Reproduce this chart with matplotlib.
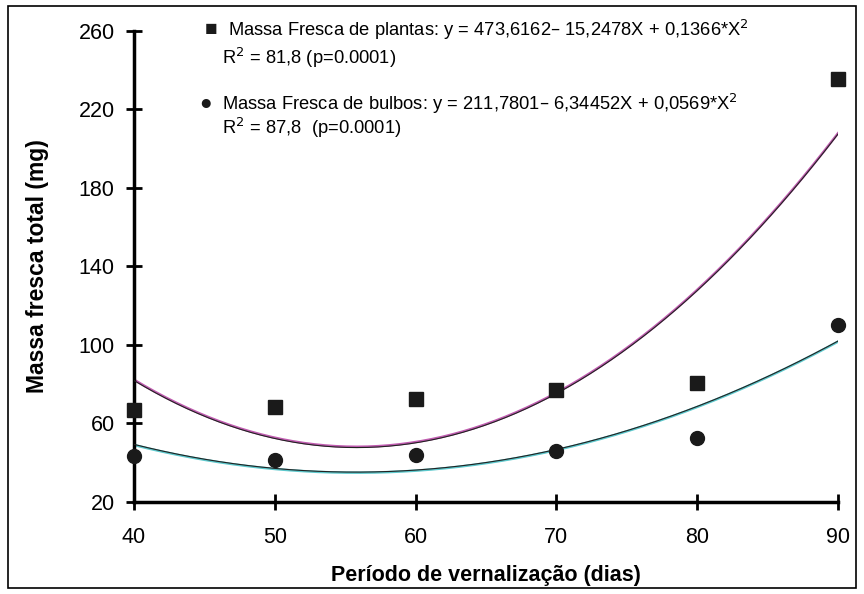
import numpy as np
import matplotlib
matplotlib.use("Agg")
from matplotlib import pyplot as plt
from matplotlib.patches import Rectangle

plt.rcParams['font.family'] = ['Liberation Sans', 'DejaVu Sans']

# dados
dias = [40, 50, 60, 70, 80, 90]
massa_plantas = [66.9, 68.2, 72.5, 77.1, 80.5, 235.3]
massa_bulbos = [43.6, 41.4, 43.8, 46.0, 52.6, 110.2]

# coeficientes das regressoes (a, b, c) -> y = a + b*X + c*X^2
coef_plantas = [473.6162, -15.2478, 0.1366]
coef_bulbos = [211.7801, -6.34452, 0.0569]

yticks = [20, 60, 100, 140, 180, 220, 260]
xticks = [40, 50, 60, 70, 80, 90]

fig = plt.figure(figsize=(8.64, 5.94), dpi=100)
ax = fig.add_axes([0.1551, 0.1549, 0.8148, 0.7934])

# moldura da figura
fig.patches.append(Rectangle((8/864, 6/594), 848/864, 582/594, transform=fig.transFigure,
                             fill=False, edgecolor='black', linewidth=1.2))

x = np.linspace(40, 90, 200)
yp = coef_plantas[0] + coef_plantas[1]*x + coef_plantas[2]*x**2
yb = coef_bulbos[0] + coef_bulbos[1]*x + coef_bulbos[2]*x**2

ax.plot(x, yp, color='#c05cb0', linewidth=1.8, zorder=2)
ax.plot(x, yp - 0.4, color='#222222', linewidth=0.8, zorder=3)
ax.plot(x, yb, color='#5cc8cc', linewidth=1.8, zorder=2)
ax.plot(x, yb + 0.3, color='#222222', linewidth=0.8, zorder=3)

ax.plot(dias, massa_plantas, 's', color='#1a1a1a', markersize=9.5, clip_on=False, zorder=4)
ax.plot(dias, massa_bulbos, 'o', color='#1a1a1a', markersize=10, clip_on=False, zorder=4)

ax.set_xlim(40, 90)
ax.set_ylim(20, 260)
ax.set_xticks(xticks)
ax.set_yticks(yticks)
ax.tick_params(axis='both', direction='inout', length=12, width=2, labelsize=15.5, pad=8)
ax.tick_params(axis='x', pad=12)

for s in ['top', 'right']:
    ax.spines[s].set_visible(False)
for s in ['left', 'bottom']:
    ax.spines[s].set_linewidth(2.5)

ax.set_xlabel('Período de vernalização (dias)', fontsize=15.5, fontweight='bold', labelpad=12)
ax.set_ylabel('Massa fresca total (mg)', fontsize=16.5, fontweight='bold', labelpad=21)

# legendas com as equacoes
fig.text(211/864, 1 - 30/594, '■', fontsize=15, ha='center', va='center', color='#1a1a1a')
fig.text(228/864, 1 - 30/594, 'Massa Fresca de plantas: y = 473,6162– 15,2478X + 0,1366*X$^2$',
         fontsize=13.2, va='center')
fig.text(222/864, 1 - 58/594, 'R$^2$ = 81,8 (p=0.0001)', fontsize=13.2, va='center')
fig.text(206/864, 1 - 104/594, '●', fontsize=15, ha='center', va='center', color='#1a1a1a')
fig.text(222/864, 1 - 104/594, 'Massa Fresca de bulbos: y = 211,7801– 6,34452X + 0,0569*X$^2$',
         fontsize=13.2, va='center')
fig.text(222/864, 1 - 128/594, 'R$^2$ = 87,8  (p=0.0001)', fontsize=13.2, va='center')

plt.savefig('out.png', dpi=100)
